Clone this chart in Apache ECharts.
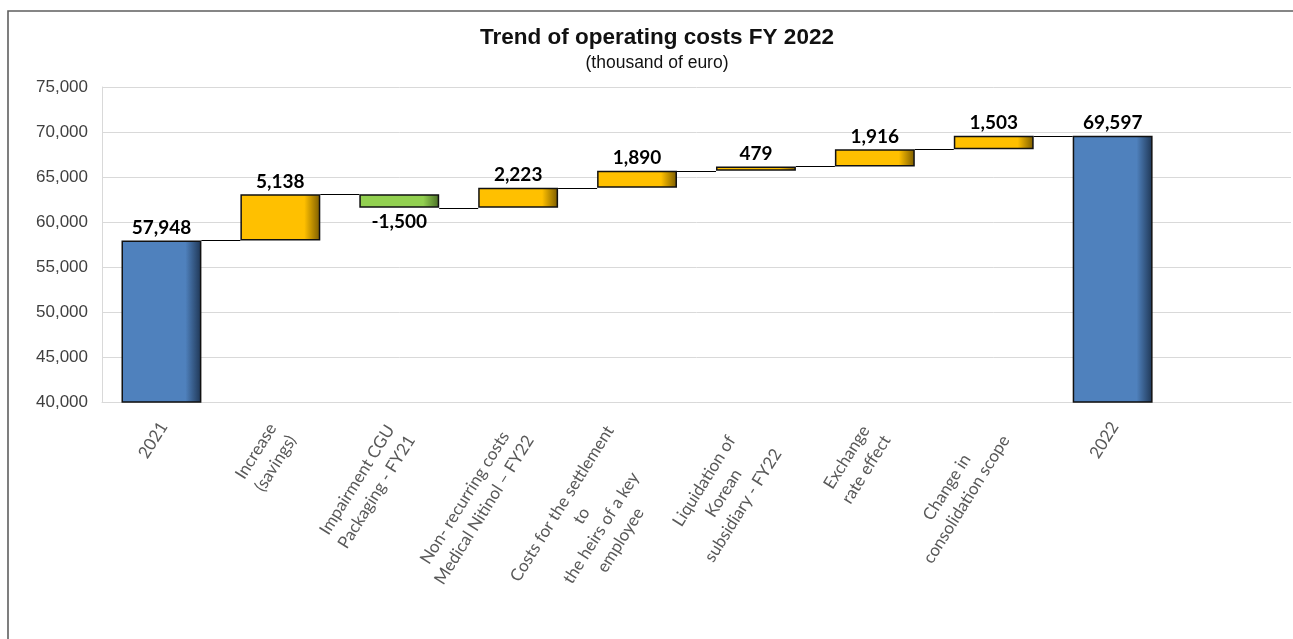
<!DOCTYPE html>
<html>
<head>
<meta charset="utf-8">
<script src="https://cdn.jsdelivr.net/npm/echarts@6/dist/echarts.min.js"></script>
<style>
  html, body { margin: 0; padding: 0; background: #fff; }
  #chart { width: 1293px; height: 639px; }
</style>
</head>
<body>
<div id="chart"></div>
<script>
// Waterfall steps, thousand of euro
const categories = [
  '2021',
  'Increase\n(savings)',
  'Impairment CGU\nPackaging - FY21',
  'Non- recurring costs\nMedical Nitinol \u2013 FY22',
  'Costs for the settlement\nto\nthe heirs of a key\nemployee',
  'Liquidation of\nKorean\nsubsidiary - FY22',
  'Exchange\nrate effect',
  'Change in\nconsolidation scope',
  '2022',
  ''
];
const changes = [57948, 5138, -1500, 2223, 1890, 479, 1916, 1503, 69597];
const kinds = ['total', 'up', 'down', 'up', 'up', 'up', 'up', 'up', 'total'];
const yMin = 40000, yMax = 75000, yStep = 5000;

const BAR_RATIO = 0.672;
const LABEL_ANGLE = 58;

// Invisible base + visible step for every category; running level for the connectors
const baseData = [], stepData = [], connectors = [];
let level = 0;
changes.forEach((v, i) => {
  if (kinds[i] === 'total') {
    baseData.push(0);
    stepData.push(v);
    level = v;
  } else {
    const end = level + v;
    baseData.push(Math.min(level, end));
    stepData.push(Math.abs(v));
    level = end;
  }
  if (i < changes.length - 1) connectors.push([i, level]);
});

function shaded(main, edge) {
  return {
    type: 'linear', x: 0, y: 0, x2: 1, y2: 0,
    colorStops: [
      { offset: 0, color: main },
      { offset: 0.8, color: main },
      { offset: 1, color: edge }
    ]
  };
}
const fills = {
  total: shaded('#4F81BD', '#1E3553'),
  up: shaded('#FFC000', '#7A5B00'),
  down: shaded('#92D050', '#4A6E26')
};

const fmt = v => Number(v).toLocaleString('en-US');

const chart = echarts.init(document.getElementById('chart'), null, { renderer: 'canvas' });
chart.setOption({
  animation: false,
  backgroundColor: '#fff',
  title: {
    text: 'Trend of operating costs FY 2022',
    subtext: '(thousand of euro)',
    left: 657,
    textAlign: 'center',
    top: 26,
    padding: 0,
    itemGap: 5,
    textStyle: { fontFamily: 'Liberation Sans', fontWeight: 'bold', fontSize: 22.5, color: '#111' },
    subtextStyle: { fontFamily: 'Liberation Sans', fontSize: 17.5, color: '#111' }
  },
  graphic: [{
    type: 'rect',
    x: 8, y: 11,
    shape: { width: 1400, height: 800 },
    style: { fill: 'none', stroke: '#5f5f5f', lineWidth: 1.6 },
    silent: true
  }],
  grid: { left: 102, right: 2, top: 87, bottom: 237 },
  xAxis: {
    type: 'category',
    data: categories,
    axisLine: { show: true, lineStyle: { color: '#d9d9d9', width: 1 } },
    axisTick: { show: false },
    splitLine: { show: false },
    axisLabel: { show: false }
  },
  yAxis: {
    type: 'value',
    min: yMin, max: yMax, interval: yStep,
    axisLine: { show: true, lineStyle: { color: '#d9d9d9', width: 1 } },
    axisTick: { show: false },
    splitLine: { lineStyle: { color: '#d9d9d9', width: 1 } },
    axisLabel: {
      margin: 14,
      color: '#404040',
      fontFamily: 'Liberation Sans',
      fontSize: 17,
      formatter: fmt
    }
  },
  series: [
    {
      // horizontal connectors between consecutive steps
      type: 'custom',
      z: 1,
      silent: true,
      encode: { x: 0, y: 1 },
      data: connectors,
      renderItem: (params, api) => {
        const i = api.value(0), v = api.value(1);
        const a = api.coord([i, v]);
        const b = api.coord([i + 1, v]);
        const half = api.size([1, 0])[0] * BAR_RATIO / 2;
        return {
          type: 'line',
          shape: { x1: a[0] + half, y1: Math.round(a[1]) + 0.5, x2: b[0] - half, y2: Math.round(b[1]) + 0.5 },
          style: { stroke: '#000', lineWidth: 1 }
        };
      }
    },
    {
      type: 'bar',
      stack: 'fall',
      z: 2,
      barWidth: (BAR_RATIO * 100) + '%',
      silent: true,
      itemStyle: { color: 'transparent', borderWidth: 0 },
      data: baseData
    },
    {
      type: 'bar',
      stack: 'fall',
      z: 3,
      silent: true,
      data: stepData.map((v, i) => ({
        value: v,
        itemStyle: { color: fills[kinds[i]], borderColor: '#111', borderWidth: 1.5 },
        label: {
          show: true,
          position: changes[i] < 0 ? 'bottom' : 'top',
          distance: changes[i] < 0 ? 5 : 3,
          formatter: () => fmt(changes[i]),
          fontFamily: 'Lato',
          fontWeight: 'bold',
          fontSize: 19,
          color: '#000'
        }
      }))
    },
    {
      // slanted category labels, lines centred within each block
      type: 'custom',
      z: 4,
      silent: true,
      clip: false,
      encode: { x: 0, y: 1 },
      data: categories.map((c, i) => [i, yMin]),
      renderItem: (params, api) => {
        const i = api.value(0);
        const lines = categories[i] ? categories[i].split('\n') : [];
        if (!lines.length) return null;
        const p = api.coord([i, yMin]);
        const n = lines.length;
        return {
          type: 'text',
          x: p[0] + 2,
          y: p[1] + 14 + 7.4 * n,
          rotation: LABEL_ANGLE * Math.PI / 180,
          style: {
            text: lines.map(s => '{c|' + s + '}').join('\n'),
            align: 'right',
            verticalAlign: 'middle',
            fill: '#595959',
            fontFamily: 'Lato',
            fontSize: 17,
            lineHeight: 23,
            rich: {
              c: { align: 'center', fill: '#595959', fontFamily: 'Lato', fontSize: 17, lineHeight: 23 }
            }
          }
        };
      }
    }
  ]
});
</script>
</body>
</html>
